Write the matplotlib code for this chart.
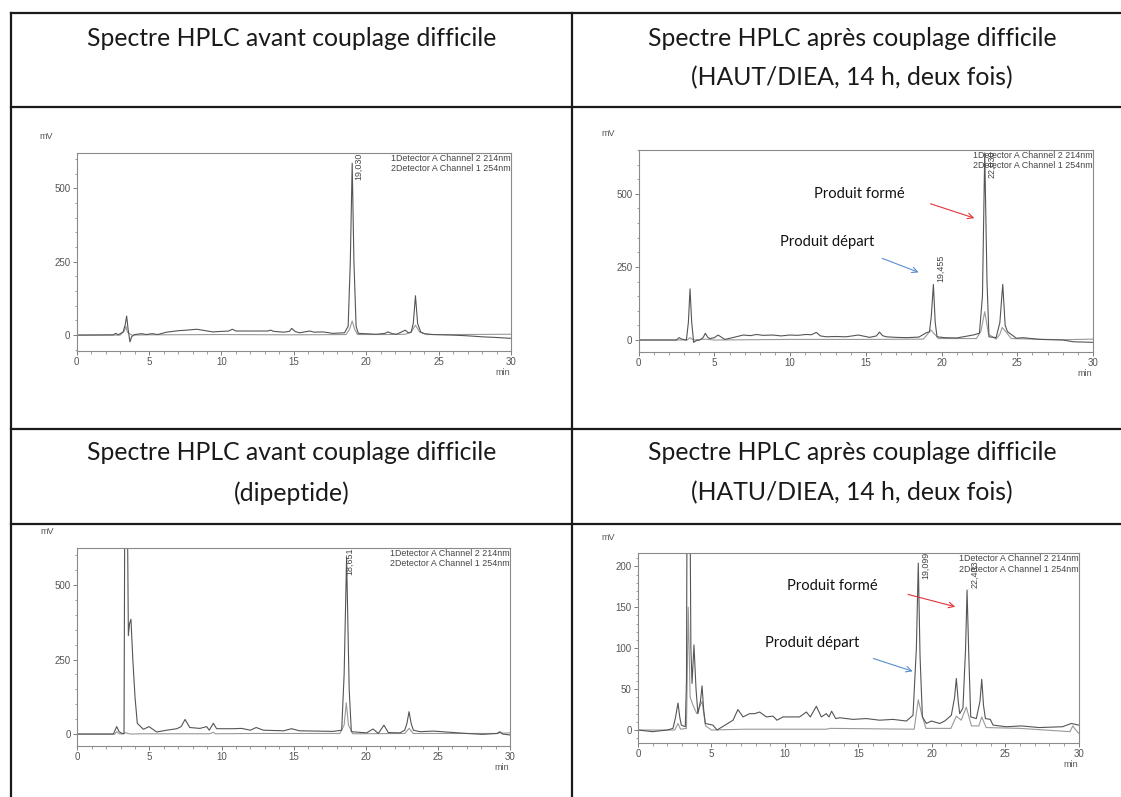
import matplotlib
matplotlib.use("Agg")
from matplotlib import pyplot as plt
from matplotlib.lines import Line2D
from matplotlib.ticker import MultipleLocator

W, H = 1121, 797

# ---- chromatogram traces (time in min, signal in mV) ----
# top-left : avant couplage
a_t1 = [0, 2.5, 2.72, 2.85, 3.2, 3.35, 3.45, 3.55, 3.68, 3.8, 4.0, 4.5, 4.8, 5.2, 5.6, 6.2, 7.0, 7.6, 8.3, 9.4,
        10.5, 10.75, 11.0, 12.0, 13.2, 13.4, 13.6, 14.3, 14.7, 14.85, 15.1, 15.4, 16.1, 16.4, 17.0, 17.7, 18.5,
        18.75, 18.9, 19.03, 19.15, 19.3, 19.45, 20.7, 21.3, 21.5, 21.8, 22.1, 22.7, 22.9, 23.1, 23.25, 23.4,
        23.55, 23.76, 24.0, 24.6, 26.0, 26.9, 28.1, 29.0, 30]
a_v1 = [0, 1, 6, 1, 10, 35, 65, 20, -23, -5, 2, 5, 2, 5, 2, 10, 15, 17, 20, 11,
        14, 20, 14, 14, 14, 17, 13, 10, 13, 23, 12, 8, 14, 10, 11, 6, 8,
        30, 250, 585, 250, 30, 6, 3, 6, 11, 5, 3, 17, 8, 10, 40, 134,
        40, 11, 5, 2, 0, -2, -6, -8, -11]
a_t2 = [0, 3.0, 3.3, 3.4, 3.5, 3.8, 5, 10, 15, 18.6, 18.85, 19.03, 19.2, 19.4, 21.5, 22.7, 23.1, 23.4, 23.7,
        24.2, 26, 30]
a_v2 = [0, 0, 15, 30, 10, 0, 1, 2, 1, 2, 20, 48, 20, 2, 2, 3, 10, 34, 10, 2, 2, 3]

# top-right : apres couplage (HAUT/DIEA)
b_t1 = [0, 2.5, 2.66, 2.85, 3.15, 3.28, 3.39, 3.5, 3.63, 3.8, 4.03, 4.25, 4.4, 4.55, 4.69, 5.0, 5.24, 5.45,
        5.68, 6.2, 6.9, 7.4, 7.77, 8.2, 8.87, 9.4, 9.97, 10.5, 11.07, 11.4, 11.73, 12.0, 12.4, 13.0, 13.7,
        14.5, 15.25, 15.7, 15.9, 16.1, 16.35, 17.0, 17.7, 18.5, 19.0, 19.2, 19.32, 19.46, 19.58, 19.7, 20.2,
        21.0, 22.08, 22.5, 22.7, 22.85, 23.0, 23.13, 23.6, 23.85, 24.04, 24.2, 24.35, 24.55, 24.94, 25.38,
        26.5, 28.0, 28.7, 30]
b_v1 = [0, 0, 8, 3, 0, 60, 175, 60, -8, -2, 0, 8, 23, 10, 5, 8, 17, 10,
        2, 8, 17, 15, 19, 16, 17, 14, 17, 16, 19, 18, 26, 14, 11, 12, 11,
        17, 9, 14, 27, 15, 11, 9, 8, 10, 25, 28, 80, 190, 60, 11, 8,
        7, 17, 23, 150, 640, 200, 11, 8, 60, 190, 50, 29, 21, 6, 8,
        2, 0, -6, -8]
b_t2 = [0, 3.2, 3.4, 3.6, 4.4, 5, 10, 15, 18.8, 19.3, 19.8, 22.3, 22.6, 22.85, 23.1, 23.6, 23.85, 24.0, 24.3,
        24.6, 26, 28, 30]
b_v2 = [0, 0, 8, 0, 3, 0, 2, 2, 3, 34, 5, 5, 30, 97, 20, 3, 20, 43, 25, 5, 3, 1, 3]

# bottom-left : avant couplage (dipeptide)
c_t1 = [0, 2.5, 2.73, 2.9, 3.1, 3.24, 3.3, 3.45, 3.54, 3.62, 3.72, 3.85, 4.0, 4.16, 4.58, 4.97, 5.5, 6.2,
        6.9, 7.2, 7.47, 7.8, 8.5, 8.97, 9.15, 9.43, 9.66, 10.8, 11.4, 12.0, 12.4, 12.9, 14.3, 14.86, 15.4,
        17.75, 18.33, 18.5, 18.67, 18.85, 19.0, 20.06, 20.5, 20.87, 21.26, 21.56, 22.37, 22.7, 22.85, 23.0,
        23.15, 23.3, 23.76, 24.7, 27.0, 28.1, 29.1, 29.26, 29.5, 30]
c_v1 = [0, 0, 25, 8, 2, 2, 900, 900, 330, 370, 385, 250, 125, 36, 16, 25, 7, 13,
        18, 25, 49, 22, 19, 25, 13, 36, 18, 18, 19, 13, 22, 13, 11, 18, 11,
        9, 13, 200, 592, 150, 8, 4, 17, 2, 30, 5, 4, 13, 35, 75,
        35, 13, 8, 10, 2, -1, 2, 7, 0, -3]
c_t2 = [0, 2.6, 2.73, 2.9, 3.2, 3.35, 3.5, 3.7, 4.5, 9.2, 9.4, 9.6, 12.3, 18.2, 18.5, 18.65, 18.8, 19.1,
        22.7, 23.0, 23.3, 24.0, 29.2, 29.3, 29.5, 30]
c_v2 = [0, 0, 8, 1, 0, 5, 2, 0, 1, 1, 6, 1, 2, 2, 30, 105, 30, 1,
        2, 19, 2, 2, 2, 8, 3, 4]

# bottom-right : apres couplage (HATU/DIEA)
d_t1 = [0, 1.0, 2.0, 2.38, 2.55, 2.72, 2.85, 2.95, 3.22, 3.3, 3.36, 3.5, 3.6, 3.68, 3.81, 3.95, 4.08, 4.25,
        4.36, 4.47, 4.58, 5.1, 5.38, 6.47, 6.8, 7.15, 7.6, 7.94, 8.28, 8.74, 9.19, 9.46, 9.87, 11.0, 11.46,
        11.73, 12.14, 12.48, 12.82, 13.0, 13.18, 13.46, 13.73, 14.64, 15.54, 16.45, 17.36, 18.27, 18.72,
        18.95, 19.08, 19.2, 19.36, 19.63, 19.97, 20.54, 20.88, 21.33, 21.55, 21.67, 21.8, 21.9, 22.12, 22.3,
        22.4, 22.52, 22.65, 23.03, 23.28, 23.4, 23.52, 23.65, 23.98, 24.17, 25.07, 26.1, 27.3, 28.9, 29.5, 30]
d_v1 = [0, -2, 0, 2, 15, 33, 15, 6, 4, 60, 400, 400, 100, 57, 104, 50, 20, 35,
        54, 25, 8, 6, 0, 12, 25, 16, 20, 20, 22, 16, 17, 12, 16, 16, 22,
        16, 29, 16, 20, 16, 23, 14, 15, 13, 14, 12, 13, 11, 18,
        100, 204, 90, 16, 8, 11, 8, 11, 18, 40, 63, 35, 20, 27, 100,
        171, 90, 16, 14, 35, 62, 30, 14, 13, 6, 4, 5, 3, 4, 8, 6]
d_t2 = [0, 2.5, 2.72, 2.9, 3.3, 3.42, 3.55, 3.75, 4.0, 4.36, 4.6, 5.0, 7.3, 12.8, 13.1, 18.8, 19.08, 19.3,
        19.6, 21.3, 21.67, 22.0, 22.35, 22.7, 23.2, 23.4, 23.7, 26.0, 29.4, 29.6, 29.8, 30]
d_v2 = [0, 0, 8, 1, 2, 150, 40, 30, 20, 35, 5, 0, 1, 1, 2, 1, 37, 20,
        2, 2, 17, 12, 28, 5, 5, 16, 3, 2, -2, 5, 0, -4]

legend_txt = "1Detector A Channel 2 214nm\n2Detector A Channel 1 254nm"

headers = [
    (291.5, ["Spectre HPLC avant couplage difficile"], 38),
    (852, ["Spectre HPLC après couplage difficile", "(HAUT/DIEA, 14 h, deux fois)"], 38),
    (291.5, ["Spectre HPLC avant couplage difficile", "(dipeptide)"], 453),
    (852, ["Spectre HPLC après couplage difficile", "(HATU/DIEA, 14 h, deux fois)"], 453),
]

fig = plt.figure(figsize=(W / 100, H / 100), dpi=100)
fig.patch.set_facecolor("white")


def fx(x):
    return x / W


def fy(y):
    return 1 - y / H


# table grid
for y in [13, 107, 429, 524]:
    fig.add_artist(Line2D([fx(11), fx(1121)], [fy(y), fy(y)], color="#1a1a1a", lw=1.6))
for x in [11, 572]:
    fig.add_artist(Line2D([fx(x), fx(x)], [fy(13), fy(797)], color="#1a1a1a", lw=1.6))

for cx, lines, y0 in headers:
    for i, s in enumerate(lines):
        fig.text(fx(cx), fy(y0 + 40 * i), s, ha="center", va="center",
                 fontsize=17.8, family="Lato", color="#1a1a1a")


def chromato(box, ylim, ymaj, ymin, tr1, tr2):
    l, t, r, b = box
    ax = fig.add_axes([fx(l), fy(b), fx(r) - fx(l), fy(t) - fy(b)])
    ax.plot(tr2[0], tr2[1], color="#999999", lw=0.8)
    ax.plot(tr1[0], tr1[1], color="#555555", lw=0.8)
    ax.set_xlim(0, 30)
    ax.set_ylim(*ylim)
    ax.xaxis.set_major_locator(MultipleLocator(5))
    ax.xaxis.set_minor_locator(MultipleLocator(1))
    ax.yaxis.set_major_locator(MultipleLocator(ymaj))
    ax.yaxis.set_minor_locator(MultipleLocator(ymin))
    ax.tick_params(which="major", direction="out", length=3, width=0.6, color="#666666",
                   labelsize=7, labelcolor="#555555", pad=1.5)
    ax.tick_params(which="minor", direction="out", length=1.8, width=0.5, color="#777777")
    for s in ax.spines.values():
        s.set_color("#8a8a8a")
        s.set_linewidth(0.8)
    for lab in ax.get_xticklabels() + ax.get_yticklabels():
        lab.set_family("Liberation Sans")
    ax.text(0.999, 0.995, legend_txt, transform=ax.transAxes, ha="right", va="top",
            fontsize=6.4, family="Liberation Sans", color="#444444", linespacing=1.2)
    fig.text(fx(l - 37), fy(t - 16), "mV", fontsize=6.5, family="Liberation Sans", color="#555555",
             va="center", ha="left")
    fig.text(fx(r - 8), fy(b + 22), "min", fontsize=6.5, family="Liberation Sans", color="#555555",
             va="center", ha="center")
    return ax


def peak_label(ax, t, v, s):
    ax.text(t, v, s, rotation=90, fontsize=6.4, family="Liberation Sans", color="#444444",
            ha="center", va="bottom")


axA = chromato((76.7, 152.7, 511, 350.7), (-53, 621), 250, 50, (a_t1, a_v1), (a_t2, a_v2))
peak_label(axA, 19.5, 528, "19,030")

axB = chromato((638.7, 150, 1093, 351.7), (-40, 650), 250, 50, (b_t1, b_v1), (b_t2, b_v2))
peak_label(axB, 19.94, 200, "19,455")
peak_label(axB, 23.35, 554, "22,830")

axC = chromato((77.3, 547.7, 510, 745.7), (-39, 625), 250, 50, (c_t1, c_v1), (c_t2, c_v2))
peak_label(axC, 18.9, 533, "18,651")

axD = chromato((638, 553.3, 1078.7, 742.7), (-15.5, 216), 50, 10, (d_t1, d_v1), (d_t2, d_v2))
peak_label(axD, 19.58, 184, "19,099")
peak_label(axD, 22.92, 173, "22,403")


def product_notes(ax, form_txt, form_arrow, dep_txt, dep_arrow):
    ax.text(*form_txt, "Produit formé", ha="center", va="center", fontsize=10.6, family="Lato",
            color="#111111")
    ax.text(*dep_txt, "Produit départ", ha="center", va="center", fontsize=10.6, family="Lato",
            color="#111111")
    ax.annotate("", xy=form_arrow[1], xytext=form_arrow[0],
                arrowprops=dict(arrowstyle="->", color="#e0343a", lw=0.8))
    ax.annotate("", xy=dep_arrow[1], xytext=dep_arrow[0],
                arrowprops=dict(arrowstyle="->", color="#5a8ed0", lw=0.8))


product_notes(axB, (14.6, 500), ((19.1, 469), (22.34, 414)), (12.45, 336), ((15.9, 283), (18.66, 228)))
product_notes(axD, (13.2, 176), ((18.2, 166.6), (21.78, 149.8)), (11.85, 106.5), ((15.84, 88.5), (18.88, 70.7)))

fig.savefig("out.png", dpi=100)
